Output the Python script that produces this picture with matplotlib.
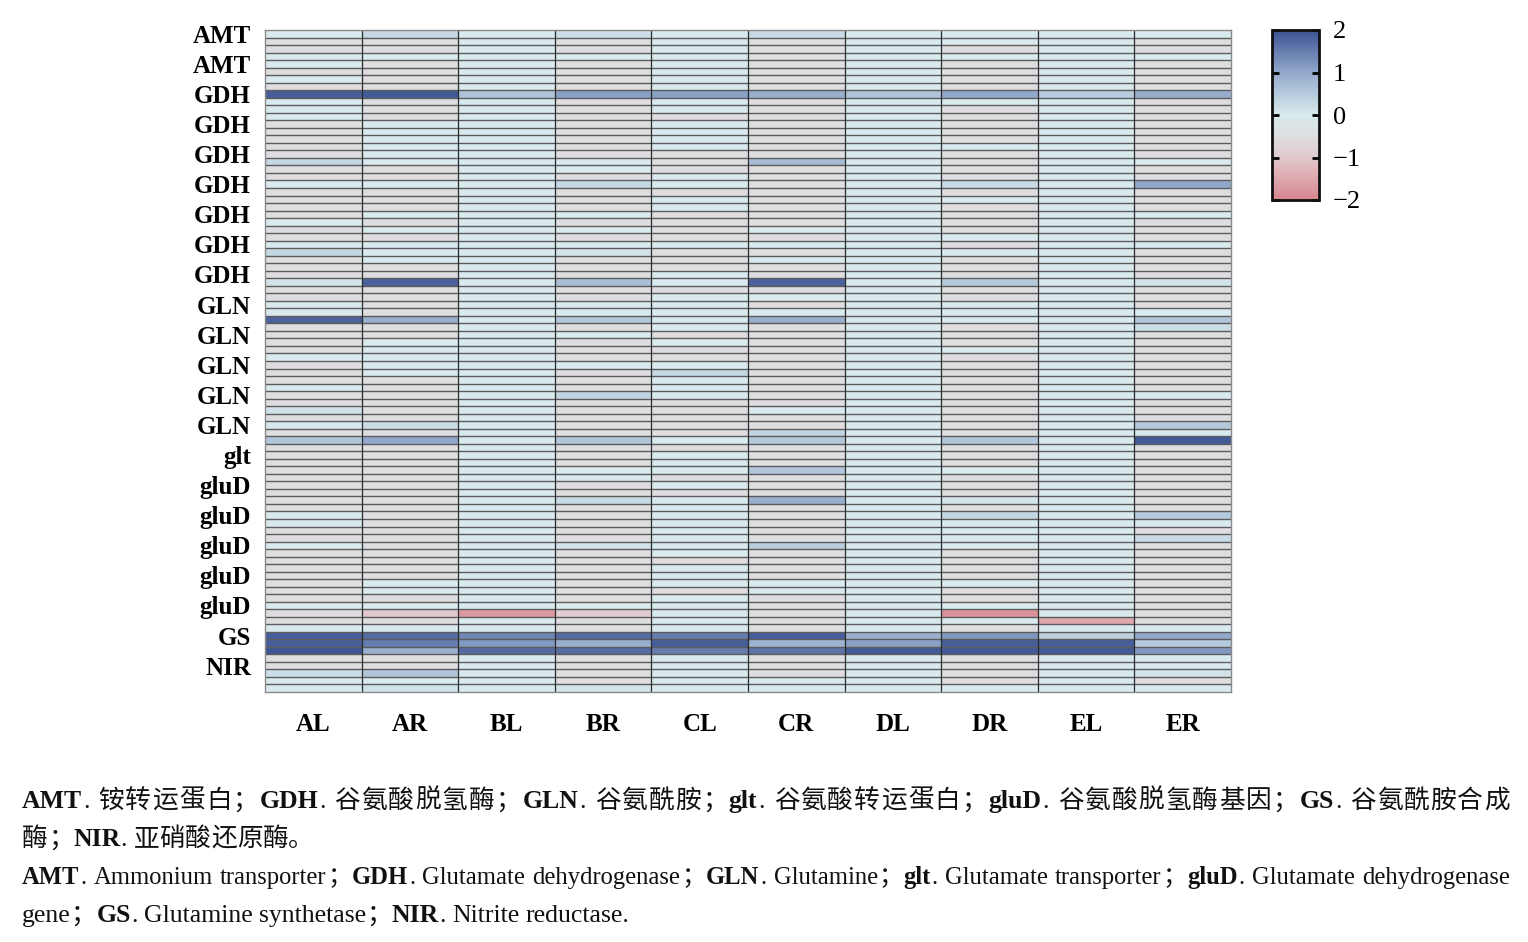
import numpy as np
import matplotlib
matplotlib.use("Agg")
import matplotlib.pyplot as plt
from matplotlib.colors import LinearSegmentedColormap

# shorthand for the two most common shades
G = -0.5    # greyish cells
C = 0.0     # pale cyan cells

samples = ["AL", "AR", "BL", "BR", "CL", "CR", "DL", "DR", "EL", "ER"]

# only every 4th row carries a visible label
gene_labels = ["AMT", "AMT",
               "GDH", "GDH", "GDH", "GDH", "GDH", "GDH", "GDH",
               "GLN", "GLN", "GLN", "GLN", "GLN",
               "glt",
               "gluD", "gluD", "gluD", "gluD", "gluD",
               "GS", "NIR"]

amt = [
    [C, 0.3, C, 0.2, C, 0.25, C, C, C, C],
    [G, G, C, G, C, G, C, C, C, G],
    [G, G, C, G, C, G, C, G, C, G],
    [C, C, C, C, C, G, C, C, C, C],
    [C, G, C, G, C, G, C, G, C, G],
    [G, G, C, G, C, G, C, G, C, G],
    [C, G, C, G, C, G, C, G, C, G],
    [G, G, C, G, C, G, C, G, C, G],
]

gdh = [
    [1.85, 1.9, 0.6, 1.1, 1.1, 0.9, 0.6, 1.0, 0.45, 0.95],
    [C, G, C, G, C, G, C, C, C, G],
    [C, G, C, G, C, G, C, G, C, G],
    [C, G, C, G, G, G, C, G, C, G],
    [G, C, C, G, C, G, C, G, C, G],
    [G, C, C, G, C, G, C, G, C, G],
    [G, C, C, G, C, G, C, G, C, G],
    [G, C, C, G, C, G, C, C, C, G],
    [G, C, C, G, G, G, C, G, C, G],
    [0.3, C, C, C, G, 0.7, C, G, C, C],
    [G, G, C, C, G, G, C, G, C, G],
    [G, G, C, G, C, G, C, G, C, G],
    [C, C, C, 0.3, C, G, C, 0.25, C, 1.0],
    [G, G, C, G, G, G, C, G, C, G],
    [G, G, C, G, C, G, C, C, C, G],
    [G, G, C, G, C, G, C, G, C, G],
    [G, C, C, C, G, G, C, G, C, C],
    [C, G, C, G, G, G, C, G, C, G],
    [G, C, C, C, G, C, C, G, C, G],
    [G, G, C, G, G, G, C, C, C, G],
    [C, C, C, C, C, C, C, G, C, C],
    [0.3, C, C, 0.1, G, G, C, C, C, G],
    [G, C, C, G, G, C, C, G, C, G],
    [G, G, C, G, G, G, C, G, C, G],
    [G, G, C, G, C, G, C, G, C, G],
    [0.1, 1.8, C, 0.7, C, 1.8, C, 0.5, C, 0.1],
    [G, G, C, G, G, G, C, G, C, G],
    [G, G, C, G, C, C, C, G, C, G],
]

gln = [
    [C, G, C, C, C, G, C, C, C, G],
    [C, G, C, C, C, C, C, C, C, C],
    [1.8, 0.9, C, 0.5, C, 0.9, C, C, C, 0.55],
    [G, G, C, G, C, G, C, G, C, 0.2],
    [G, G, C, C, G, G, C, G, C, G],
    [G, C, C, G, C, G, C, G, C, G],
    [G, C, C, G, G, G, C, C, C, G],
    [C, C, C, G, G, G, C, G, C, G],
    [G, C, C, C, C, G, C, G, C, G],
    [G, C, C, G, 0.3, G, C, G, C, G],
    [G, G, C, G, C, G, C, G, C, G],
    [C, G, C, G, C, G, C, G, C, G],
    [G, G, C, 0.35, C, G, C, G, C, C],
    [G, G, C, G, G, G, C, G, C, G],
    [0.15, G, C, G, G, C, C, G, C, G],
    [G, G, C, G, G, G, C, G, C, G],
    [0.05, 0.2, C, G, G, G, C, G, C, 0.5],
    [G, G, C, G, G, 0.35, C, G, C, C],
    [0.55, 1.0, C, 0.55, C, 0.5, C, 0.55, C, 1.9],
    [G, G, C, G, G, G, C, G, C, G],
]

glt = [
    [G, G, C, G, C, G, C, G, C, G],
    [G, G, C, G, C, G, C, G, C, G],
    [G, G, C, C, C, 0.55, C, C, C, G],
    [G, G, C, C, G, G, C, G, C, G],
]

glud = [
    [G, G, C, G, C, G, C, G, C, G],
    [G, G, C, G, G, G, C, G, C, G],
    [G, G, C, 0.25, C, 0.9, C, 0.1, C, G],
    [G, G, C, G, C, G, C, G, C, G],
    [C, G, C, G, C, G, C, 0.3, C, 0.5],
    [C, G, C, G, C, G, C, C, C, C],
    [G, G, C, G, C, G, C, C, C, G],
    [G, G, C, G, C, G, C, C, C, 0.25],
    [C, G, C, 0.1, C, 0.45, C, C, C, G],
    [G, G, C, G, C, G, C, G, C, G],
    [G, G, C, G, G, G, C, G, C, G],
    [G, G, C, G, C, G, C, G, C, G],
    [G, G, C, G, C, G, C, G, C, G],
    [G, C, C, G, C, C, C, C, C, G],
    [G, C, C, G, G, C, C, G, C, G],
    [G, G, C, G, C, G, C, G, C, G],
    [C, C, C, C, C, G, C, C, C, G],
    [G, -1.0, -1.7, -0.9, C, G, C, -1.8, C, G],
    [G, G, C, G, C, G, C, C, -1.5, G],
    [C, C, C, G, C, G, C, G, C, C],
]

gs = [
    [1.85, 1.7, 1.4, 1.7, 1.5, 1.85, 0.9, 1.2, 0.4, 1.0],
    [1.85, 1.5, 1.2, 0.9, 1.85, 0.85, 1.1, 1.85, 1.85, 0.5],
    [1.95, 0.9, 1.7, 1.7, 1.5, 1.6, 1.9, 1.9, 1.9, 1.2],
    [G, G, C, G, C, G, C, G, C, C],
]

nir = [
    [G, G, C, G, C, G, C, G, C, C],
    [0.2, 0.55, C, G, C, G, C, G, C, 0.1],
    [C, C, C, G, C, C, C, G, C, G],
    [C, 0.15, C, 0.1, C, C, C, C, C, C],
]

cbar_ticks = [-2, -1, 0, 1, 2]
cbar_labels = ["\u22122", "\u22121", "0", "1", "2"]

caption = [
    ([("AMT", True), (". 铵转运蛋白；", False), ("GDH", True), (". 谷氨酸脱氢酶；", False),
      ("GLN", True), (". 谷氨酰胺；", False), ("glt", True), (". 谷氨酸转运蛋白；", False),
      ("gluD", True), (". 谷氨酸脱氢酶基因；", False), ("GS", True), (". 谷氨酰胺合成", False)], True),
    ([("酶；", False), ("NIR", True), (". 亚硝酸还原酶。", False)], False),
    ([("AMT", True), (". Ammonium transporter；", False), ("GDH", True),
      (". Glutamate dehydrogenase；", False), ("GLN", True), (". Glutamine；", False),
      ("glt", True), (". Glutamate transporter；", False), ("gluD", True),
      (". Glutamate dehydrogenase", False)], True),
    ([("gene；", False), ("GS", True), (". Glutamine synthetase；", False),
      ("NIR", True), (". Nitrite reductase.", False)], False),
]

SERIF = ["Liberation Serif", "Noto Sans CJK SC", "DejaVu Sans"]
plt.rcParams["font.family"] = SERIF

W, H = 1528, 942
fig = plt.figure(figsize=(W / 100, H / 100), dpi=100)

data = np.array(amt + gdh + gln + glt + glud + gs + nir)
nrows, ncols = data.shape

cmap = LinearSegmentedColormap.from_list(
    "pinkblue",
    [(0.0, "#d8868f"), (0.25, "#e2c9cd"), (0.375, "#dedddf"), (0.5, "#d9ebee"),
     (0.75, "#93a9cb"), (1.0, "#3a5292")])

ax = fig.add_axes([265 / W, 1 - 692 / H, 966 / W, 662 / H])
mesh = ax.pcolormesh(data, cmap=cmap, vmin=-2, vmax=2)
ax.hlines(np.arange(1, nrows), 0, ncols, colors="#5c5c5c", linewidth=1.0)
ax.vlines(np.arange(1, ncols), 0, nrows, colors="#2a2a2a", linewidth=0.9)
ax.set_xlim(0, ncols)
ax.set_ylim(nrows, 0)

ax.set_xticks(np.arange(ncols) + 0.5)
ax.set_xticklabels(samples, fontsize=18, fontweight="bold")
ax.set_yticks(np.arange(0, nrows, 4) + 0.5)
ax.set_yticklabels(gene_labels, fontsize=18, fontweight="bold")
ax.tick_params(axis="x", length=0, pad=15)
ax.tick_params(axis="y", length=0, pad=10)
for s in ax.spines.values():
    s.set_color("#8a8a8a")
    s.set_linewidth(1.0)

cax = fig.add_axes([1272 / W, 1 - 200 / H, 47 / W, 170 / H])
cb = fig.colorbar(mesh, cax=cax, ticks=cbar_ticks)
cb.ax.set_yticklabels(cbar_labels)
cb.ax.tick_params(left=True, right=True, direction="in", length=5, width=2,
                  labelsize=19, pad=10, color="black")
cb.outline.set_linewidth(2)
cb.outline.set_edgecolor("#111111")

# caption: placed token by token so lines can be justified like the original
renderer = fig.canvas.get_renderer()
CAP_SIZE = 18.5


def text_width(s, bold, size):
    t = fig.text(0, 0, s, fontsize=size, fontweight="bold" if bold else "normal")
    w = t.get_window_extent(renderer=renderer).width
    t.remove()
    return w


def advance(s, bold, size):
    return text_width("|" + s + "|", bold, size) - text_width("||", bold, size)


def tokenize(runs):
    toks = []
    for txt, bold in runs:
        word = ""
        for ch in txt:
            if ch == " " or ord(ch) > 0x2E80:
                if word:
                    toks.append((word, bold))
                    word = ""
                toks.append((ch, bold))
            else:
                word += ch
        if word:
            toks.append((word, bold))
    return toks


x_left, x_right = 22, 1510
target = x_right - x_left
baselines = [808, 846, 884, 922]
for (runs, justify), base in zip(caption, baselines):
    toks = tokenize(runs)
    size = CAP_SIZE
    widths = [advance(t, b, size) for t, b in toks]
    if justify and sum(widths) > target:
        # too long: shrink this line a little instead of squeezing the spaces
        size = CAP_SIZE * target / sum(widths) * 0.99
        widths = [advance(t, b, size) for t, b in toks]
    extra = 0.0
    if justify and len(toks) > 1:
        extra = (target - sum(widths)) / (len(toks) - 1)
    x = x_left
    for (t, b), w in zip(toks, widths):
        if t != " ":
            fig.text(x / W, 1 - base / H, t, fontsize=size,
                     fontweight="bold" if b else "normal",
                     ha="left", va="baseline", color="#111111")
        x += w + extra

fig.savefig("out.png", dpi=100)
